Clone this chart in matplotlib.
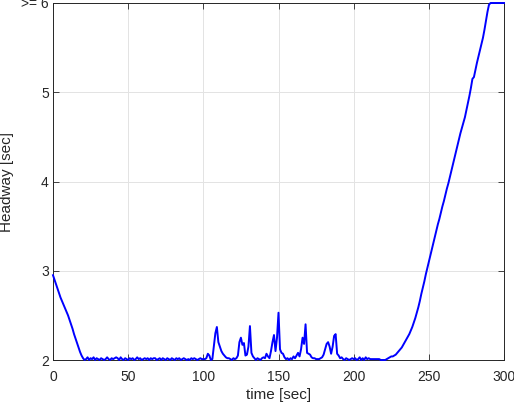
import matplotlib
matplotlib.use("Agg")
import matplotlib.pyplot as plt
import numpy as np

plt.rcParams['font.family'] = ['Liberation Sans', 'DejaVu Sans']

# time in seconds, one sample per second
time = np.arange(0, 301)

headway = [
    # 0-22 descending
    2.95, 2.90, 2.85, 2.80, 2.75, 2.70, 2.66, 2.62, 2.58, 2.54,
    2.50, 2.45, 2.40, 2.35, 2.29, 2.24, 2.19, 2.14, 2.09, 2.05,
    2.02, 2.00, 2.01,
    # 23-100
    2.03, 2.00, 2.02, 2.01, 2.03, 2.00, 2.02, 2.01, 2.00, 2.02,
    2.01, 2.00, 2.01, 2.03, 2.01, 2.00, 2.02, 2.01, 2.02, 2.03,
    2.02, 2.00, 2.03, 2.01, 2.00, 2.02, 2.01, 2.00, 2.02, 2.01,
    2.02, 2.00, 2.01, 2.03, 2.01, 2.02, 2.00, 2.01, 2.02, 2.01,
    2.02, 2.00, 2.02, 2.01, 2.02, 2.02, 2.00, 2.01, 2.02, 2.00,
    2.02, 2.01, 2.00, 2.02, 2.01, 2.00, 2.02, 2.01, 2.00, 2.02,
    2.01, 2.02, 2.00, 2.01, 2.02, 2.01, 2.00, 2.01, 2.00, 2.02,
    2.01, 2.02, 2.01, 2.00, 2.01, 2.02, 2.01, 2.01,
    # 101-200
    2.01, 2.02, 2.07, 2.05, 2.00, 2.01, 2.15, 2.30, 2.37, 2.20,
    2.15, 2.10, 2.07, 2.05, 2.03, 2.02, 2.02, 2.01, 2.00, 2.02,
    2.01, 2.02, 2.05, 2.20, 2.25, 2.17, 2.19, 2.05, 2.06, 2.15,
    2.38, 2.08, 2.04, 2.02, 2.00, 2.02, 2.01, 2.00, 2.02, 2.03,
    2.02, 2.07, 2.04, 2.02, 2.10, 2.20, 2.28, 2.10, 2.25, 2.53,
    2.12, 2.08, 2.07, 2.03, 2.01, 2.02, 2.00, 2.02, 2.01, 2.04,
    2.02, 2.05, 2.08, 2.04, 2.12, 2.25, 2.18, 2.40, 2.08, 2.07,
    2.06, 2.03, 2.02, 2.02, 2.01, 2.01, 2.01, 2.02, 2.03, 2.06,
    2.12, 2.18, 2.20, 2.15, 2.07, 2.15, 2.27, 2.29, 2.07, 2.05,
    2.02, 2.03, 2.01, 2.00, 2.02, 2.01, 2.00, 2.01, 2.02, 2.01,
    # 201-222
    2.02, 2.00, 2.01, 2.03, 2.00, 2.02, 2.00, 2.03, 2.01, 2.02,
    2.01, 2.01, 2.01, 2.01, 2.01, 2.01, 2.01, 2.00, 2.00, 2.00,
    2.00, 2.01,
    # 223-290 rising
    2.02, 2.03, 2.04, 2.04, 2.05, 2.06, 2.08, 2.10, 2.12, 2.14,
    2.17, 2.20, 2.23, 2.26, 2.29, 2.33, 2.37, 2.42, 2.47, 2.53,
    2.59, 2.66, 2.74, 2.81, 2.88, 2.96, 3.03, 3.10, 3.17, 3.24,
    3.31, 3.38, 3.45, 3.52, 3.58, 3.65, 3.72, 3.78, 3.85, 3.92,
    3.98, 4.05, 4.12, 4.19, 4.26, 4.33, 4.40, 4.47, 4.54, 4.60,
    4.66, 4.72, 4.80, 4.88, 4.96, 5.05, 5.15, 5.17, 5.25, 5.33,
    5.40, 5.47, 5.54, 5.61, 5.70, 5.80, 5.90, 5.98,
    # 291-300 saturated
    6.00, 6.00, 6.00, 6.00, 6.00, 6.00, 6.00, 6.00, 6.00, 6.00,
]

xticks = [0, 50, 100, 150, 200, 250, 300]
yticks = [2, 3, 4, 5, 6]
ytick_labels = ['2', '3', '4', '5', '>= 6']

fig = plt.figure(figsize=(5.14, 4.04), dpi=100)
ax = fig.add_axes([53/514, 44/404, 451/514, 357/404])

ax.plot(time, headway, color=(0, 0, 1), lw=1.4, clip_on=False, zorder=3)

ax.set_xlim(0, 300)
ax.set_ylim(2, 6)
ax.set_xticks(xticks)
ax.set_yticks(yticks)
ax.set_yticklabels(ytick_labels)
ax.grid(True, color='#e3e3e3', lw=0.7)
ax.set_axisbelow(True)
ax.tick_params(direction='in', top=True, right=True, length=4, width=0.6,
               color='#262626', labelsize=10, labelcolor='#262626')
ax.tick_params(axis='x', pad=7)
ax.tick_params(axis='y', pad=3)
for s in ax.spines.values():
    s.set_color('#262626')
    s.set_linewidth(0.7)

ax.set_xlabel('time [sec]', fontsize=11, color='#262626', labelpad=3)
ax.set_ylabel('Headway [sec]', fontsize=11, color='#262626', labelpad=5)

fig.savefig('out.png', dpi=100)
